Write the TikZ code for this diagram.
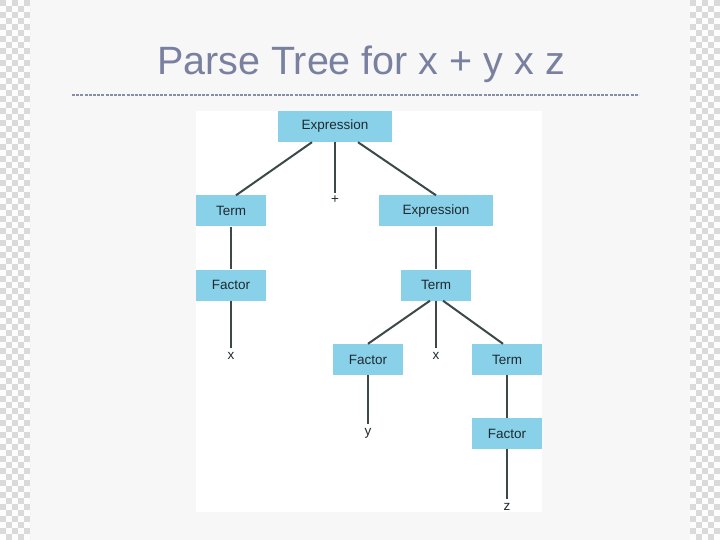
\documentclass[tikz,border=0pt]{standalone}
\usepackage{fontspec}
\setmainfont{Liberation Sans}
\usepackage{xcolor}
\usetikzlibrary{calc}

\definecolor{slide}{HTML}{F7F7F8}
\definecolor{checker}{HTML}{DADADA}
\definecolor{titlecol}{HTML}{7A80A0}
\definecolor{boxfill}{HTML}{89D1E9}
\definecolor{edgecol}{HTML}{3D4848}
\definecolor{textcol}{HTML}{1F2A30}

\tikzset{
  box/.style={fill=boxfill, text=textcol, inner sep=0pt, minimum width=70pt,
    minimum height=31pt, font=\fontsize{13.5}{15}\selectfont},
  widebox/.style={box, minimum width=114pt},
  leaf/.style={text=textcol, inner sep=4pt, text height=7pt, text depth=0pt,
    anchor=base, font=\fontsize{13.5}{15}\selectfont},
  edge/.style={draw=edgecol, line width=2pt}
}

\begin{document}
\begin{tikzpicture}[x=1pt, y=-1pt]
			\useasboundingbox (0,0) rectangle (720,540);
			% slide background and the checker strips at the sides
			\fill[slide] (0,0) rectangle (720,540);
			\foreach \xa in {0,690}{
				\begin{scope}
					\clip (\xa,0) rectangle (\xa+30,540);
					\fill[white!95!checker] (\xa,0) rectangle (\xa+30,540);
					\foreach \j in {0,...,89}{
						\pgfmathsetmacro\off{mod(\j,2)}
						\foreach \i in {0,2,4}
							\fill[checker] (\xa+6*\i+6*\off,6*\j) rectangle ++(6,6);
					}
				\end{scope}
			}
			% title and rule
			\node[anchor=base, text=titlecol, inner sep=0pt,
				font=\fontsize{39.5}{44}\selectfont] (title) at (361,75) {Parse Tree for x + y x z};
			\draw[titlecol!90, line width=2.5pt, dash pattern=on 3pt off 1.2pt] (72,95) -- (639,95);
			\fill[white] (196,111) rectangle (542,512);
			% tree
			\node[widebox] (exprA) at (335,126.5) {Expression};
			\node[box] (termA) at (231,211) {Term};
			\node[leaf] (plus) at (335,204) {+};
			\node[widebox] (exprB) at (436,211) {Expression};
			\node[box] (factorA) at (231,285) {Factor};
			\node[box] (termB) at (436,285) {Term};
			\node[leaf] (xA) at (231,359) {x};
			\node[box] (factorB) at (368,359.5) {Factor};
			\node[leaf] (times) at (436,359) {x};
			\node[box] (termC) at (507,359.5) {Term};
			\node[leaf] (yA) at (368,435) {y};
			\node[box] (factorC) at (507,433.5) {Factor};
			\node[leaf] (zA) at (507,510) {z};
			\draw[edge] ([xshift=-23pt]exprA.south) -- ([xshift=5pt]termA.north);
			\draw[edge] (exprA.south) -- (plus.north);
			\draw[edge] ([xshift=23pt]exprA.south) -- (exprB.north);
			\draw[edge] (termA) -- (factorA);
			\draw[edge] (factorA) -- (xA.north);
			\draw[edge] (exprB) -- (termB);
			\draw[edge] ([xshift=-6pt]termB.south) -- (factorB.north);
			\draw[edge] (termB.south) -- (times.north);
			\draw[edge] ([xshift=7pt]termB.south) -- ([xshift=-4pt]termC.north);
			\draw[edge] (factorB) -- (yA.north);
			\draw[edge] (termC) -- (factorC);
			\draw[edge] (factorC) -- (zA.north);
		\end{tikzpicture}
\end{document}
